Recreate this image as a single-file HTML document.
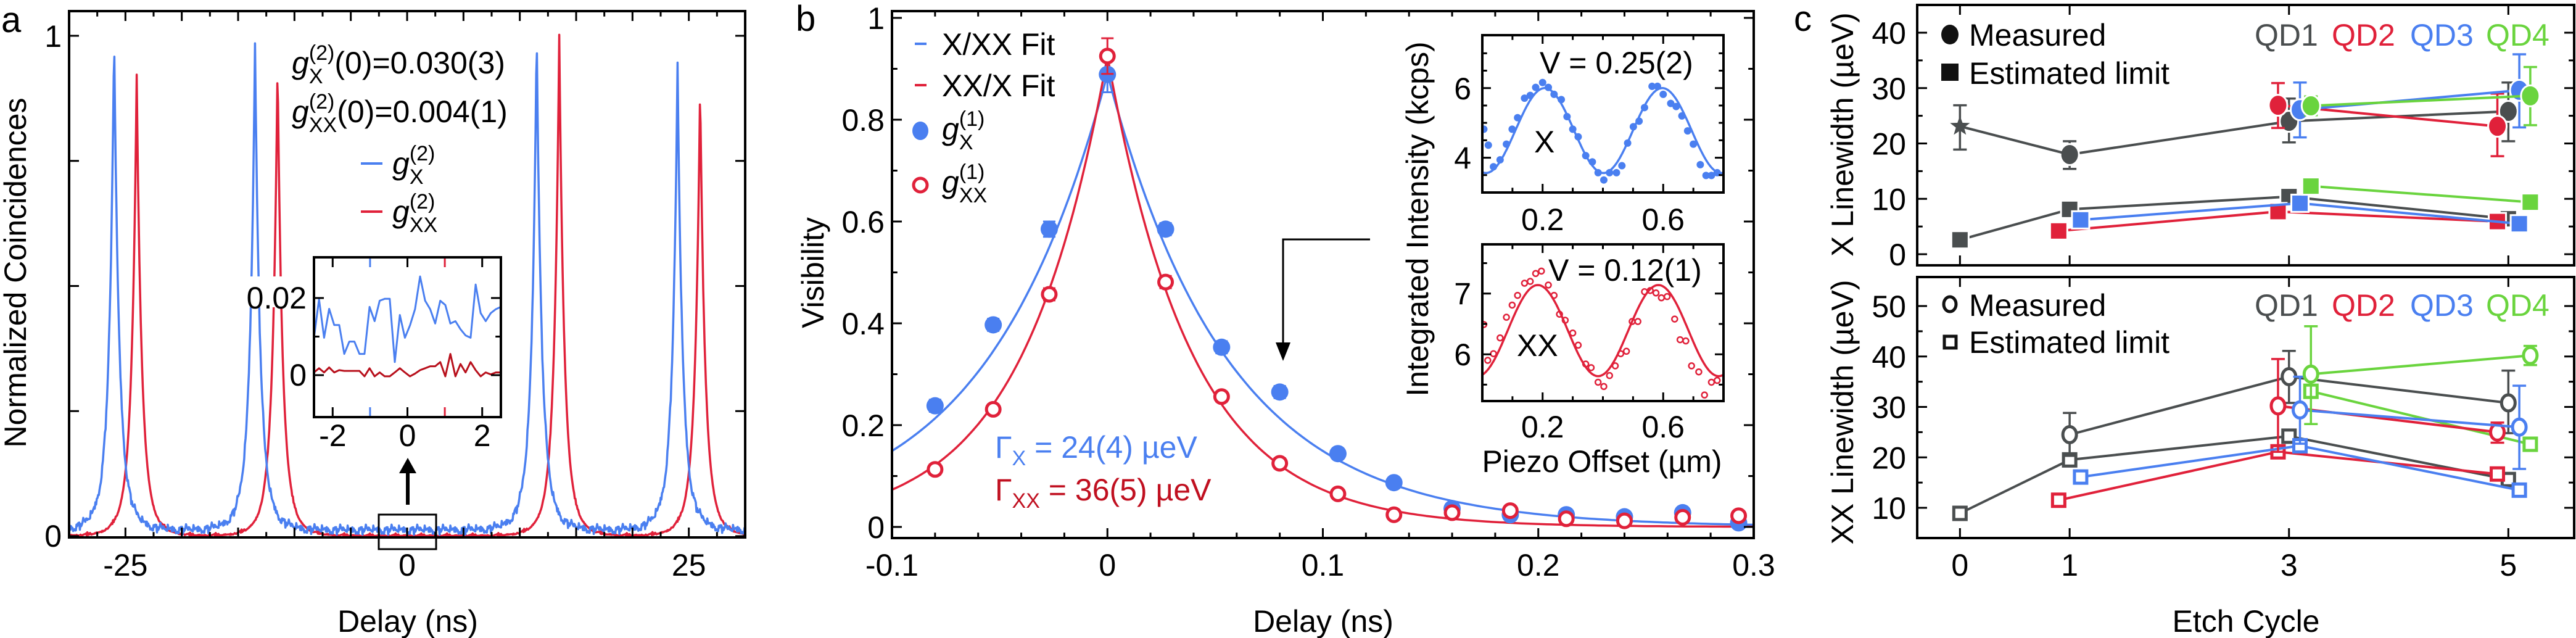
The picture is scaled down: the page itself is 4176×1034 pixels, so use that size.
<!DOCTYPE html>
<html><head><meta charset="utf-8">
<style>
html,body{margin:0;padding:0;background:#fff;}
svg{display:block;font-family:"Liberation Sans",Arial,sans-serif;}
</style></head>
<body>
<svg id="fig" width="4176" height="1034" viewBox="0 0 4176 1034" xmlns="http://www.w3.org/2000/svg"></svg>
<script>
// ---------- Panel a data ----------
const aPeakCentersX = [-26, -13.5, 11.5, 24];
const aPeakHeightsX = [0.99, 0.98, 1.0, 0.93];
const aPeakCentersXX = [-24, -11.5, 13.5, 26];
const aPeakHeightsXX = [0.92, 0.945, 1.0, 0.9];
const aNoiseX = [0.0097,0.0197,0.0097,0.0172,0.0130,0.0130,0.0055,0.0087,0.0087,0.0055,0.0055,0.0177,0.0140,0.0193,0.0198,0.0198,0.0034,0.0156,0.0097,0.0129,0.0171,0.0256,0.0193,0.0171,0.0134,0.0193,0.0182,0.0134,0.0140,0.0119,0.0103,0.0097,0.0235,0.0161,0.0140,0.0161,0.0171,0.0177];
const aNoiseXX = [0.0007,0.0018,0.0007,0.002,0.0007,0.0013,0.0011,0.0011,0.0011,0.0011,-0.0003,0.0018,-0.0003,0.0007,-0.0003,-0.0003,0.0007,0.0018,0.0007,-0.0003,0.0004,0.0013,0.0018,0.0023,0.0023,0.0034,-0.0003,0.0055,-0.0003,0.0029,0.0007,0.0034,0.0013,-0.0003,0.0007,0.0002,0.0007,0.0007];
const aXTickLabels = ['-25','0','25'];
const aXTickValues = [-25,0,25];

// ---------- Panel b data ----------
const bDelays = [-0.08,-0.053,-0.027,0,0.027,0.053,0.08,0.107,0.133,0.16,0.187,0.213,0.24,0.267,0.293];
const bVisX = [0.238,0.397,0.585,0.889,0.585,0.353,0.265,0.144,0.087,0.036,0.024,0.024,0.02,0.028,0.008];
const bErrX = [0.012,0.012,0.015,0.035,0.012,0.012,0.012,0.01,0.01,0.008,0.008,0.008,0.008,0.008,0.008];
const bVisXX = [0.113,0.231,0.457,0.925,0.481,0.256,0.125,0.065,0.024,0.028,0.032,0.016,0.012,0.019,0.022];
const bErrXX = [0.01,0.01,0.012,0.035,0.012,0.01,0.01,0.008,0.008,0.008,0.008,0.008,0.008,0.008,0.008];
const bFitAmp = [0.89, 0.925];
const bFitTau = [0.056, 0.0394];
const bXTicks = [-0.1,0,0.1,0.2,0.3];
const bXTickLabels = ['-0.1','0','0.1','0.2','0.3'];
const bYTicks = [0,0.2,0.4,0.6,0.8,1];
const bYTickLabels = ['0','0.2','0.4','0.6','0.8','1'];
// insets
const insXPos = [0.005,0.020,0.037,0.059,0.080,0.099,0.117,0.140,0.159,0.177,0.200,0.219,0.238,0.262,0.281,0.300,0.318,0.343,0.365,0.384,0.403,0.422,0.445,0.463,0.482,0.501,0.520,0.538,0.563,0.581,0.600,0.625,0.643,0.662,0.681,0.700,0.723,0.742,0.760,0.779];
const insXVal = [4.82,4.36,3.74,3.94,4.39,4.82,5.15,5.71,5.79,6.02,6.16,6.02,5.82,5.67,5.18,4.82,4.60,4.06,3.88,3.57,3.36,3.57,3.57,3.77,4.42,4.89,5.05,5.44,6.05,6.05,5.82,5.56,5.47,5.20,4.77,4.39,3.80,3.49,3.49,3.57];
const insXXPos = [0.005,0.018,0.037,0.059,0.080,0.099,0.117,0.140,0.159,0.177,0.196,0.219,0.238,0.256,0.275,0.300,0.318,0.343,0.361,0.384,0.403,0.422,0.441,0.459,0.478,0.497,0.516,0.538,0.557,0.576,0.594,0.613,0.638,0.656,0.675,0.694,0.718,0.737,0.760,0.779];
const insXXVal = [6.49,5.90,6.01,6.27,6.61,6.81,6.97,7.17,7.20,7.33,7.37,7.14,6.97,6.66,6.56,6.35,6.15,5.84,5.78,5.54,5.47,5.65,5.81,6.01,6.05,6.54,6.54,7.03,7.05,7.01,6.93,6.95,6.58,6.24,6.22,5.81,5.71,5.33,5.54,5.57];
const insFitMean = [4.78, 6.39];
const insFitAmp = [1.22, 0.75];
const insFitPhase = [0.207, 0.184];
const insFitPeriod = [0.39, 0.40];

// ---------- Panel c data ----------
const cQDNames = ['QD1','QD2','QD3','QD4'];
const cColors = ['#4a4e4f','#e0213a','#4a7ff0','#6ad43e'];
const cXMeasQD1 = [[0,23.1,18.9,26.9],[1,18.0,15.4,20.4],[3,24.0,20.2,28.1],[5,25.8,20.4,31.0]];
const cXMeasQD2 = [[2.9,26.9,22.8,30.9],[4.9,23.1,17.7,29.0]];
const cXMeasQD3 = [[3.1,26.1,21.1,31.0],[5.1,29.6,22.9,36.1]];
const cXMeasQD4 = [[3.2,26.8,25.1,28.5],[5.2,28.6,23.3,33.8]];
const cXLimQD1 = [[0,2.6],[1,8.1],[3,10.4],[5,6.4]];
const cXLimQD2 = [[0.9,4.2],[2.9,7.7],[4.9,5.9]];
const cXLimQD3 = [[1.1,6.2],[3.1,9.2],[5.1,5.5]];
const cXLimQD4 = [[3.2,12.3],[5.2,9.4]];
const cXXMeasQD1 = [[1,24.5,20.3,28.8],[3,36.0,30.8,41.1],[5,30.8,24.8,37.2]];
const cXXMeasQD2 = [[2.9,30.2,21.1,39.5],[4.9,25.0,22.9,26.9]];
const cXXMeasQD3 = [[3.1,29.4,22.7,36.0],[5.1,26.0,17.7,34.2]];
const cXXMeasQD4 = [[3.2,36.5,26.6,46.0],[5.2,40.2,38.3,42.1]];
const cXXLimQD1 = [[0,8.9],[1,19.5],[3,24.2],[5,15.6]];
const cXXLimQD2 = [[0.9,11.5],[2.9,21.1],[4.9,16.7]];
const cXXLimQD3 = [[1.1,16.1],[3.1,22.3],[5.1,13.5]];
const cXXLimQD4 = [[3.2,33.1],[5.2,22.6]];
const cXTicks = [0,1,3,5];
const cXTickLabels = ['0','1','3','5'];
const cTopYTicks = [0,10,20,30,40];
const cBotYTicks = [10,20,30,40,50];

// ---------- helpers ----------
const NS = 'http://www.w3.org/2000/svg';
const svg = document.getElementById('fig');
const BLUE = '#4a7ff0', RED = '#e0213a', DRED = '#c01020';
function el(parent, tag, attrs, name) {
  const e = document.createElementNS(NS, tag);
  for (const k in attrs) e.setAttribute(k, attrs[k]);
  
  
  parent.appendChild(e);
  return e;
}
function lin(d0, d1, r0, r1) { return v => r0 + (v - d0) * (r1 - r0) / (d1 - d0); }
function T(g, x, y, html, o, name) {
  const e = el(g, 'text', {x: x, y: y, 'font-size': o.size || 50, 'text-anchor': o.anchor || 'start', fill: o.fill || '#000'}, name);
  e.innerHTML = html;
  if (o.rot) e.setAttribute('transform', 'rotate(-90 ' + x + ' ' + y + ')');
  return e;
}
function gsym(sup, sub, rest) {
  const supW = 41.5, subW = sub.length * 22.7;
  return '<tspan font-style="italic">g</tspan><tspan font-size="34" dy="-22">' + sup + '</tspan><tspan font-size="34" dx="-' + supW + '" dy="38">' + sub + '</tspan><tspan dx="' + Math.max(0, supW - subW) + '" dy="-16">' + (rest || '') + '</tspan>';
}
function frame(g, x0, y0, x1, y1, name, fill) {
  el(g, 'rect', {x: x0, y: y0, width: x1 - x0, height: y1 - y0, fill: fill || 'none', stroke: '#000', 'stroke-width': 4}, name);
}
function ticks(g, box, sx, sy, xMaj, xMin, yMaj, yMin, L, name) {
  const [x0, y0, x1, y1] = box; let d = '';
  const l = L || 16, s = l * 0.55;
  xMaj.forEach(v => { const x = sx(v); d += 'M' + x + ' ' + y1 + 'v' + (-l) + 'M' + x + ' ' + y0 + 'v' + l; });
  xMin.forEach(v => { const x = sx(v); d += 'M' + x + ' ' + y1 + 'v' + (-s) + 'M' + x + ' ' + y0 + 'v' + s; });
  yMaj.forEach(v => { const y = sy(v); d += 'M' + x0 + ' ' + y + 'h' + l + 'M' + x1 + ' ' + y + 'h' + (-l); });
  yMin.forEach(v => { const y = sy(v); d += 'M' + x0 + ' ' + y + 'h' + s + 'M' + x1 + ' ' + y + 'h' + (-s); });
  el(g, 'path', {d: d, stroke: '#000', 'stroke-width': 3, fill: 'none'}, name);
}
function range(a, b, st) { const r = []; for (let v = a; v <= b + 1e-9; v += st) r.push(+v.toFixed(6)); return r; }
function poly(g, pts, color, w, name) {
  el(g, 'polyline', {points: pts.map(p => p[0].toFixed(1) + ',' + p[1].toFixed(1)).join(' '), fill: 'none', stroke: color, 'stroke-width': w, 'stroke-linejoin': 'round'}, name);
}

// ================= PANEL A =================
const ga = el(svg, 'g', {}, 'panel-a');
T(ga, 2, 52, 'a', {size: 58}, 'panel-a-label');
const ax = lin(-30, 30, 112, 1208), ay = lin(0, 1, 869, 58);
const aBox = [112, 18, 1208, 871];
function peakSum(t, cs, hs) { let s = 0; for (let i = 0; i < cs.length; i++) { const d = Math.abs(t - cs[i]); s += hs[i] * (0.8 * Math.exp(-d / 0.4) + 0.2 * Math.exp(-d / 1.0)); } return s; }
const aClip = el(svg, 'clipPath', {id: 'clipA'}, 'clip-a');
el(aClip, 'rect', {x: 112, y: 18, width: 1096, height: 853}, 'clip-a-rect');
const gaPlot = el(ga, 'g', {'clip-path': 'url(#clipA)'}, 'panel-a-plot');
{
  const ptsX = [], ptsXX = [];
  let i = 0;
  for (let t = -30; t <= 30; t += 0.06, i++) {
    const nx = aNoiseX[i % aNoiseX.length] * 0.9, nxx = aNoiseXX[i % aNoiseXX.length];
    ptsX.push([ax(t), ay(peakSum(t, aPeakCentersX, aPeakHeightsX) + nx)]);
    ptsXX.push([ax(t), ay(peakSum(t, aPeakCentersXX, aPeakHeightsXX) + nxx)]);
  }
  poly(gaPlot, ptsXX, RED, 3.5, 'g2-xx-trace');
  poly(gaPlot, ptsX, BLUE, 3.5, 'g2-x-trace');
}
frame(ga, ...aBox, 'panel-a-frame');
ticks(ga, aBox, ax, ay, [-25, -20, -15, -10, -5, 0, 5, 10, 15, 20, 25], range(-27.5, 27.5, 5), [0, 0.25, 0.5, 0.75, 1], [], 16, 'panel-a-ticks');
aXTickValues.forEach((v, i) => T(ga, ax(v), 933, aXTickLabels[i], {anchor: 'middle'}, 'a-x-tick-label'));
T(ga, 100, 886, '0', {anchor: 'end'}, 'a-y-tick-label');
T(ga, 100, 76, '1', {anchor: 'end'}, 'a-y-tick-label');
T(ga, 661, 1024, 'Delay (ns)', {anchor: 'middle'}, 'a-x-axis-title');
T(ga, 42, 442, 'Normalized Coincidences', {anchor: 'middle', rot: true}, 'a-y-axis-title');
T(ga, 473, 119, gsym('(2)', 'X', '(0)=0.030(3)'), {}, 'g2-x-value');
T(ga, 473, 198, gsym('(2)', 'XX', '(0)=0.004(1)'), {}, 'g2-xx-value');
el(ga, 'line', {x1: 585, x2: 620, y1: 265, y2: 265, stroke: BLUE, 'stroke-width': 4}, 'legend-g2-x-line');
T(ga, 636, 282, gsym('(2)', 'X', ''), {}, 'legend-g2-x-label');
el(ga, 'line', {x1: 585, x2: 620, y1: 343, y2: 343, stroke: RED, 'stroke-width': 4}, 'legend-g2-xx-line');
T(ga, 636, 360, gsym('(2)', 'XX', ''), {}, 'legend-g2-xx-label');
el(ga, 'rect', {x: 614, y: 834, width: 93, height: 56, fill: 'none', stroke: '#000', 'stroke-width': 3}, 'zoom-region-box');
el(ga, 'line', {x1: 661, x2: 661, y1: 818, y2: 762, stroke: '#000', 'stroke-width': 6}, 'zoom-arrow-shaft');
el(ga, 'polygon', {points: '647,767 675,767 661,742', fill: '#000'}, 'zoom-arrow-head');
{
  const ix = lin(-2.5, 2.5, 509, 812), iy = lin(0, 0.02, 608, 483);
  const box = [509, 417, 812, 676];
  el(ga, 'rect', {x: 509, y: 417, width: 303, height: 259, fill: '#fff'}, 'inset-a-background');
  const px = aNoiseX.map((v, i) => [ix(-2.5 + 5 * i / (aNoiseX.length - 1)), iy(v)]);
  const pxx = aNoiseXX.map((v, i) => [ix(-2.5 + 5 * i / (aNoiseXX.length - 1)), iy(v)]);
  poly(ga, px, BLUE, 3, 'inset-g2-x-trace');
  poly(ga, pxx, '#b8101c', 3, 'inset-g2-xx-trace');
  frame(ga, ...box, 'inset-a-frame');
  ticks(ga, box, ix, iy, [-2, 0, 2], [], [0, 0.02], [0.01], 16, 'inset-a-ticks');
  el(ga, 'path', {d: 'M' + ix(-1) + ' 419v14M' + ix(-1) + ' 674v-14', stroke: BLUE, 'stroke-width': 3}, 'inset-x-shift-tick');
  el(ga, 'path', {d: 'M' + ix(1) + ' 419v14M' + ix(1) + ' 674v-14', stroke: RED, 'stroke-width': 3}, 'inset-xx-shift-tick');
  el(ga, 'rect', {x: 400, y: 448, width: 100, height: 50, fill: '#fff'}, 'inset-label-bg');
  T(ga, 497, 500, '0.02', {anchor: 'end'}, 'inset-a-y-tick-label');
  T(ga, 497, 625, '0', {anchor: 'end'}, 'inset-a-y-tick-label');
  [-2, 0, 2].forEach(v => T(ga, ix(v), 723, String(v), {anchor: 'middle'}, 'inset-a-x-tick-label'));
}

// ================= PANEL B =================
const gb = el(svg, 'g', {}, 'panel-b');
T(gb, 1290, 50, 'b', {size: 58}, 'panel-b-label');
const bx = lin(-0.1, 0.3, 1446, 2843), by = lin(0, 1, 854, 29);
const bBox = [1446, 18, 2843, 872];
const bClip = el(svg, 'clipPath', {id: 'clipB'}, 'clip-b');
el(bClip, 'rect', {x: 1446, y: 18, width: 1397, height: 854}, 'clip-b-rect');
const gbPlot = el(gb, 'g', {'clip-path': 'url(#clipB)'}, 'panel-b-plot');
[0, 1].forEach(k => {
  const pts = [];
  for (let t = -0.1; t <= 0.3001; t += 0.002) pts.push([bx(t), by(bFitAmp[k] * Math.exp(-Math.abs(t) / bFitTau[k]))]);
  poly(gbPlot, pts, k === 0 ? BLUE : RED, 3.5, k === 0 ? 'fit-x-curve' : 'fit-xx-curve');
});
bDelays.forEach((d, i) => {
  const x = bx(d);
  el(gbPlot, 'path', {d: 'M' + x + ' ' + by(bVisX[i] - bErrX[i]) + 'V' + by(bVisX[i] + bErrX[i]) + 'M' + (x - 10) + ' ' + by(bVisX[i] - bErrX[i]) + 'h20M' + (x - 10) + ' ' + by(bVisX[i] + bErrX[i]) + 'h20', stroke: BLUE, 'stroke-width': 3}, 'g1-x-errorbar');
  el(gbPlot, 'ellipse', {cx: x, cy: by(bVisX[i]), rx: 14, ry: 14, fill: BLUE}, 'g1-x-point');
});
bDelays.forEach((d, i) => {
  const x = bx(d);
  el(gbPlot, 'path', {d: 'M' + x + ' ' + by(bVisXX[i] - bErrXX[i]) + 'V' + by(bVisXX[i] + bErrXX[i]) + 'M' + (x - 10) + ' ' + by(bVisXX[i] - bErrXX[i]) + 'h20M' + (x - 10) + ' ' + by(bVisXX[i] + bErrXX[i]) + 'h20', stroke: RED, 'stroke-width': 3}, 'g1-xx-errorbar');
  el(gbPlot, 'circle', {cx: x, cy: by(bVisXX[i]), r: 11, fill: '#fff', stroke: RED, 'stroke-width': 5}, 'g1-xx-point');
});
frame(gb, ...bBox, 'panel-b-frame');
ticks(gb, bBox, bx, by, bXTicks, range(-0.08, 0.28, 0.02).filter(v => Math.abs(v * 10 - Math.round(v * 10)) > 1e-6), bYTicks, [0.1, 0.3, 0.5, 0.7, 0.9], 16, 'panel-b-ticks');
bXTicks.forEach((v, i) => T(gb, bx(v), 933, bXTickLabels[i], {anchor: 'middle'}, 'b-x-tick-label'));
bYTicks.forEach((v, i) => T(gb, 1434, by(v) + 18, bYTickLabels[i], {anchor: 'end'}, 'b-y-tick-label'));
T(gb, 2145, 1024, 'Delay (ns)', {anchor: 'middle'}, 'b-x-axis-title');
T(gb, 1335, 442, 'Visibility', {anchor: 'middle', rot: true}, 'b-y-axis-title');
el(gb, 'line', {x1: 1483, x2: 1502, y1: 71, y2: 71, stroke: BLUE, 'stroke-width': 4}, 'legend-x-fit-line');
T(gb, 1527, 89, 'X/XX Fit', {}, 'legend-x-fit-label');
el(gb, 'line', {x1: 1483, x2: 1502, y1: 138, y2: 138, stroke: RED, 'stroke-width': 4}, 'legend-xx-fit-line');
T(gb, 1527, 156, 'XX/X Fit', {}, 'legend-xx-fit-label');
el(gb, 'ellipse', {cx: 1492, cy: 212, rx: 13, ry: 15, fill: BLUE}, 'legend-g1-x-marker');
T(gb, 1527, 226, gsym('(1)', 'X', ''), {}, 'legend-g1-x-label');
el(gb, 'circle', {cx: 1492, cy: 300, r: 11, fill: '#fff', stroke: RED, 'stroke-width': 5}, 'legend-g1-xx-marker');
T(gb, 1527, 312, gsym('(1)', 'XX', ''), {}, 'legend-g1-xx-label');
T(gb, 1613, 742, 'Γ<tspan font-size="34" dy="12">X</tspan><tspan dy="-12"> = 24(4) µeV</tspan>', {fill: BLUE}, 'gamma-x-annotation');
T(gb, 1613, 811, 'Γ<tspan font-size="34" dy="12">XX</tspan><tspan dy="-12"> = 36(5) µeV</tspan>', {fill: DRED}, 'gamma-xx-annotation');
el(gb, 'path', {d: 'M2221 388H2080V562', fill: 'none', stroke: '#000', 'stroke-width': 3}, 'inset-pointer-arrow');
el(gb, 'polygon', {points: '2068,555 2092,555 2080,585', fill: '#000'}, 'inset-pointer-arrowhead');
function inset(y0, y1, d0, d1, pos, vals, k, color, filled, yMaj, yMin, yLabels, vTxt, vY, nameTxt, nameY, nameX, xLabY, key) {
  const ix = lin(0, 0.8, 2403, 2794), iy = lin(d0, d1, y1, y0);
  const box = [2403, y0, 2794, y1];
  el(gb, 'rect', {x: 2403, y: y0, width: 391, height: y1 - y0, fill: '#fff'}, key + '-inset-background');
  const cid = 'clip' + key;
  const cp = el(svg, 'clipPath', {id: cid}, key + '-clip');
  el(cp, 'rect', {x: 2403, y: y0, width: 391, height: y1 - y0}, key + '-clip-rect');
  const gi = el(gb, 'g', {'clip-path': 'url(#' + cid + ')'}, key + '-inset-plot');
  pos.forEach((p, i) => {
    if (filled) el(gi, 'circle', {cx: ix(p), cy: iy(vals[i]), r: 6, fill: color}, key + '-point');
    else el(gi, 'circle', {cx: ix(p), cy: iy(vals[i]), r: 4.5, fill: 'none', stroke: color, 'stroke-width': 2.5}, key + '-point');
  });
  const pts = [];
  for (let t = 0; t <= 0.8001; t += 0.004) pts.push([ix(t), iy(insFitMean[k] + insFitAmp[k] * Math.cos(2 * Math.PI * (t - insFitPhase[k]) / insFitPeriod[k]))]);
  poly(gi, pts, color, 3.5, key + '-fit-curve');
  frame(gb, ...box, key + '-inset-frame');
  ticks(gb, box, ix, iy, [0.2, 0.6], [0.1, 0.3, 0.4, 0.5, 0.7], yMaj, yMin, 14, key + '-inset-ticks');
  yMaj.forEach((v, i) => T(gb, 2385, iy(v) + 18, yLabels[i], {anchor: 'end'}, key + '-y-tick-label'));
  T(gb, ix(0.2), xLabY, '0.2', {anchor: 'middle'}, key + '-x-tick-label');
  T(gb, ix(0.6), xLabY, '0.6', {anchor: 'middle'}, key + '-x-tick-label');
  T(gb, 2496 + (key === 'xx' ? 14 : 0), vY, vTxt, {}, key + '-visibility-label');
  T(gb, nameX, nameY, nameTxt, {}, key + '-inset-name');
}
inset(57, 312, 3.0, 7.52, insXPos, insXVal, 0, BLUE, true, [4, 6], [3.5, 4.5, 5, 5.5, 6.5, 7], ['4', '6'], 'V = 0.25(2)', 119, 'X', 247, 2487, 373, 'x');
inset(396, 650, 5.23, 7.81, insXXPos, insXXVal, 1, RED, false, [6, 7], [5.5, 6.5, 7.5], ['6', '7'], 'V = 0.12(1)', 455, 'XX', 577, 2459, 709, 'xx');
T(gb, 2597, 765, 'Piezo Offset (µm)', {anchor: 'middle'}, 'inset-x-axis-title');
T(gb, 2315, 355, 'Integrated Intensity (kcps)', {anchor: 'middle', rot: true}, 'inset-y-axis-title');

// ================= PANEL C =================
const gc = el(svg, 'g', {}, 'panel-c');
T(gc, 2908, 50, 'c', {size: 58}, 'panel-c-label');
const cx = lin(-0.39, 5.6, 3108, 4173);
const cyT = lin(0, 40, 412, 53), cyB = lin(10, 50, 823, 496);
const cBoxT = [3108, 8, 4173, 430], cBoxB = [3108, 449, 4173, 872];
function series(g, data, sy, color, kind, name) {
  const pts = data.map(p => [cx(p[0]), sy(p[1])]);
  poly(g, pts, color, 4, name + '-line');
  data.forEach(p => {
    const x = cx(p[0]), y = sy(p[1]);
    if (p.length > 2) el(g, 'path', {d: 'M' + x + ' ' + sy(p[2]) + 'V' + sy(p[3]) + 'M' + (x - 11) + ' ' + sy(p[2]) + 'h22M' + (x - 11) + ' ' + sy(p[3]) + 'h22', stroke: color, 'stroke-width': 3.5}, name + '-errorbar');
    if (kind === 'star') el(g, 'polygon', {points: [0,1,2,3,4,5,6,7,8,9].map(j => { const a = -Math.PI / 2 + j * Math.PI / 5, r = j % 2 ? 7 : 17; return (x + r * Math.cos(a)).toFixed(1) + ',' + (y + r * Math.sin(a)).toFixed(1); }).join(' '), fill: color}, name + '-marker');
    else if (kind === 'dot') el(g, 'ellipse', {cx: x, cy: y, rx: 15, ry: 17, fill: color, stroke: '#fff', 'stroke-width': 3}, name + '-marker');
    else if (kind === 'sq') el(g, 'rect', {x: x - 14, y: y - 14, width: 28, height: 28, fill: color, stroke: '#fff', 'stroke-width': 3}, name + '-marker');
    else if (kind === 'ring') el(g, 'ellipse', {cx: x, cy: y, rx: 11, ry: 13, fill: '#fff', stroke: color, 'stroke-width': 5}, name + '-marker');
    else if (kind === 'osq') el(g, 'rect', {x: x - 10, y: y - 10, width: 20, height: 20, fill: '#fff', stroke: color, 'stroke-width': 5}, name + '-marker');
  });
}
const xMeas = [cXMeasQD1, cXMeasQD2, cXMeasQD3, cXMeasQD4], xLim = [cXLimQD1, cXLimQD2, cXLimQD3, cXLimQD4];
const xxMeas = [cXXMeasQD1, cXXMeasQD2, cXXMeasQD3, cXXMeasQD4], xxLim = [cXXLimQD1, cXXLimQD2, cXXLimQD3, cXXLimQD4];
xLim.forEach((d, i) => series(gc, d, cyT, cColors[i], 'sq', 'x-limit-' + cQDNames[i].toLowerCase()));
xMeas.forEach((d, i) => {
  if (i === 0) { series(gc, d.slice(1), cyT, cColors[0], 'dot', 'x-measured-qd1'); poly(gc, [[cx(d[0][0]), cyT(d[0][1])], [cx(d[1][0]), cyT(d[1][1])]], cColors[0], 4, 'x-measured-qd1-first-segment'); series(gc, [d[0]], cyT, cColors[0], 'star', 'x-measured-qd1-cycle0'); }
  else series(gc, d, cyT, cColors[i], 'dot', 'x-measured-' + cQDNames[i].toLowerCase());
});
xxLim.forEach((d, i) => series(gc, d, cyB, cColors[i], 'osq', 'xx-limit-' + cQDNames[i].toLowerCase()));
xxMeas.forEach((d, i) => series(gc, d, cyB, cColors[i], 'ring', 'xx-measured-' + cQDNames[i].toLowerCase()));
frame(gc, ...cBoxT, 'panel-c-top-frame');
frame(gc, ...cBoxB, 'panel-c-bottom-frame');
ticks(gc, cBoxT, cx, cyT, cXTicks, [], cTopYTicks, [5, 15, 25, 35], 16, 'c-top-ticks');
ticks(gc, cBoxB, cx, cyB, cXTicks, [], cBotYTicks, [15, 25, 35, 45], 16, 'c-bottom-ticks');
cTopYTicks.forEach(v => T(gc, 3090, cyT(v) + 18, String(v), {anchor: 'end'}, 'c-top-y-tick-label'));
cBotYTicks.forEach(v => T(gc, 3090, cyB(v) + 18, String(v), {anchor: 'end'}, 'c-bottom-y-tick-label'));
cXTicks.forEach((v, i) => T(gc, cx(v), 933, cXTickLabels[i], {anchor: 'middle'}, 'c-x-tick-label'));
T(gc, 3641, 1024, 'Etch Cycle', {anchor: 'middle'}, 'c-x-axis-title');
T(gc, 3004, 218, 'X Linewidth (µeV)', {anchor: 'middle', rot: true}, 'c-top-y-axis-title');
T(gc, 3004, 668, 'XX Linewidth (µeV)', {anchor: 'middle', rot: true}, 'c-bottom-y-axis-title');
el(gc, 'ellipse', {cx: 3161, cy: 56, rx: 14, ry: 16, fill: '#111'}, 'legend-measured-marker');
T(gc, 3192, 74, 'Measured', {}, 'legend-measured-label');
el(gc, 'rect', {x: 3147, y: 103, width: 28, height: 28, fill: '#111'}, 'legend-limit-marker');
T(gc, 3192, 136, 'Estimated limit', {}, 'legend-limit-label');
el(gc, 'ellipse', {cx: 3161, cy: 493, rx: 10, ry: 12, fill: '#fff', stroke: '#111', 'stroke-width': 5}, 'legend-measured-open-marker');
T(gc, 3192, 512, 'Measured', {}, 'legend-measured-open-label');
el(gc, 'rect', {x: 3152, y: 545, width: 19, height: 19, fill: '#fff', stroke: '#111', 'stroke-width': 5}, 'legend-limit-open-marker');
T(gc, 3192, 572, 'Estimated limit', {}, 'legend-limit-open-label');
const qdX = [3655, 3780, 3907, 4030];
cQDNames.forEach((n, i) => T(gc, qdX[i], 74, n, {fill: cColors[i]}, 'legend-top-' + n.toLowerCase()));
cQDNames.forEach((n, i) => T(gc, qdX[i], 512, n, {fill: cColors[i]}, 'legend-bottom-' + n.toLowerCase()));
</script>
</body></html>
